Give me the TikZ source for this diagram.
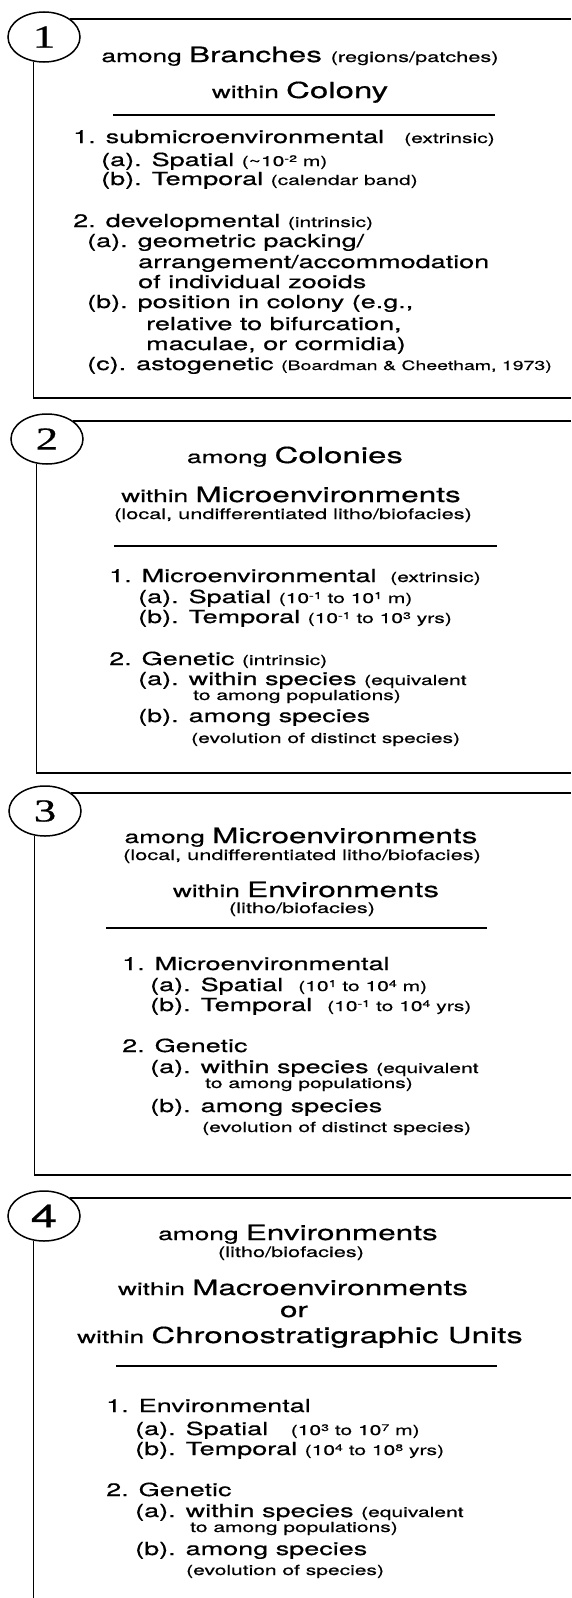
\documentclass[tikz,border=0pt]{standalone}
\usepackage{fontspec}
\setmainfont{TeX Gyre Heros}[FakeStretch=1.5, FakeBold=0.6]
\newfontfamily\numserif{Liberation Serif}[FakeStretch=1.4, FakeBold=0.6]
\usetikzlibrary{shapes.geometric}

\newcommand{\headsm}{\fontsize{17.5}{20}\selectfont}
\newcommand{\headbig}{\fontsize{21}{24}\selectfont}
\newcommand{\headpar}{\fontsize{14.5}{16}\selectfont}
\newcommand{\itemtxt}{\fontsize{18}{20}\selectfont}
\newcommand{\partxt}{\fontsize{14}{16}\selectfont}
\newcommand{\upx}[1]{\raisebox{0.55ex}{\fontsize{9.5}{10}\selectfont #1}}

\begin{document}
\begin{tikzpicture}[x=1pt, y=-1pt,
  num/.style={draw, ellipse, line width=1.5pt, minimum width=72, minimum height=50, inner sep=0pt, fill=white},
  frame/.style={line width=1.6pt},
  rule/.style={line width=1.4pt},
  head/.style={anchor=base, inner sep=0pt},
  entry/.style={anchor=base west, inner sep=0pt, font=\itemtxt}]

\useasboundingbox (0,0) rectangle (571,1598);

% panel 1: among branches
\node[num] (e1) at (44,37) {\numserif\fontsize{32}{32}\selectfont 1};
\coordinate (c1a) at (571,20);
\coordinate (c1b) at (571,398);
\draw[frame] (e1.35) -- (e1.35 -| c1a);
\draw[frame] (e1.247) |- (c1b);

\node[head] (p1t1) at (300,62) {\headsm among \headbig Branches \headpar(regions/patches)};
\node[head] (p1t2) at (300,98) {\headsm within \fontsize{22}{26}\selectfont Colony};
\draw[rule] (113,115) -- (495,115);

\node[entry] (p1a) at (73,143) {1. submicroenvironmental};
\node[entry, font=\partxt] (p1a2) at (404,143) {(extrinsic)};
\node[entry] (p1b) at (101,166) {(a). Spatial \partxt(\textasciitilde10\upx{-2} m)};
\node[entry] (p1c) at (101,185) {(b). Temporal \partxt(calendar band)};
\node[entry] (p1d) at (73,227) {2. developmental \partxt(intrinsic)};
\node[entry] (p1e) at (87,247) {(a). geometric packing/};
\node[entry] (p1f) at (138,268) {arrangement/accommodation};
\node[entry] (p1g) at (138,288) {of individual zooids};
\node[entry] (p1h) at (87,308) {(b). position in colony (e.g.,};
\node[entry] (p1i) at (146,330) {relative to bifurcation,};
\node[entry] (p1j) at (146,350) {maculae, or cormidia)};
\node[entry] (p1k) at (87,370) {(c). astogenetic \fontsize{13}{15}\selectfont(Boardman \& Cheetham, 1973)};

% panel 2: among colonies
\node[num] (e2) at (47,439) {\numserif\fontsize{32}{32}\selectfont 2};
\coordinate (c2a) at (571,425);
\coordinate (c2b) at (571,773);
\draw[frame] (e2.35) -- (e2.35 -| c2a);
\draw[frame] (e2.247) |- (c2b);

\node[head] (p2t1) at (295,463) {\headsm among \fontsize{22}{25}\selectfont Colonies};
\node[head] (p2t2) at (291,502) {\headsm within \headbig Microenvironments};
\node[head, font=\headpar] (p2t3) at (293,519) {(local, undifferentiated litho/biofacies)};
\draw[rule] (114,546) -- (497,546);

\node[entry] (p2a) at (109,582) {1. Microenvironmental};
\node[entry, font=\partxt] (p2a2) at (390,582) {(extrinsic)};
\node[entry] (p2b) at (138,603) {(a). Spatial \partxt(10\upx{-1} to 10\upx{1} m)};
\node[entry] (p2c) at (138,623) {(b). Temporal \partxt(10\upx{-1} to 10\upx{3} yrs)};
\node[entry] (p2d) at (109,665) {2. Genetic \partxt(intrinsic)};
\node[entry] (p2e) at (138,685) {(a). within species \partxt(equivalent};
\node[entry, font=\partxt] (p2f) at (193,700) {to among populations)};
\node[entry] (p2g) at (138,722) {(b). among species};
\node[entry, font=\partxt] (p2h) at (191,743) {(evolution of distinct species)};

% panel 3: among microenvironments
\node[num] (e3) at (45,811) {\numserif\fontsize{32}{32}\selectfont 3};
\coordinate (c3a) at (571,795);
\coordinate (c3b) at (571,1175);
\draw[frame] (e3.35) -- (e3.35 -| c3a);
\draw[frame] (e3.247) |- (c3b);

\node[head] (p3t1) at (301,843) {\headsm among \headbig Microenvironments};
\node[head, font=\headpar] (p3t2) at (302,860) {(local, undifferentiated litho/biofacies)};
\node[head] (p3t3) at (306,897) {\headsm within \headbig Environments};
\node[head, font=\headpar] (p3t4) at (302,913) {(litho/biofacies)};
\draw[rule] (106,928) -- (487,928);

\node[entry] (p3a) at (122,970) {1. Microenvironmental};
\node[entry] (p3b) at (150,991) {(a). Spatial\ \ \partxt(10\upx{1} to 10\upx{4} m)};
\node[entry] (p3c) at (150,1011) {(b). Temporal\ \ \partxt(10\upx{-1} to 10\upx{4} yrs)};
\node[entry] (p3d) at (122,1052) {2. Genetic};
\node[entry] (p3e) at (150,1073) {(a). within species \partxt(equivalent};
\node[entry, font=\partxt] (p3f) at (205,1088) {to among populations)};
\node[entry] (p3g) at (150,1112) {(b). among species};
\node[entry, font=\partxt] (p3h) at (202,1132) {(evolution of distinct species)};

% panel 4: among environments
\node[num] (e4) at (44,1216) {\fontsize{32}{32}\selectfont 4};
\coordinate (c4a) at (571,1201);
\coordinate (c4b) at (0,1598);
\draw[frame] (e4.35) -- (e4.35 -| c4a);
\draw[frame] (e4.247) -- (e4.247 |- c4b);

\node[head] (p4t1) at (298,1240) {\headsm among \headbig Environments};
\node[head, font=\headpar] (p4t2) at (291,1257) {(litho/biofacies)};
\node[head] (p4t3) at (293,1295) {\headsm within \headbig Macroenvironments};
\node[head] (p4t4) at (294,1317) {\headbig or};
\node[head] (p4t5) at (300,1343) {\headsm within \fontsize{22}{25}\selectfont Chronostratigraphic Units};
\draw[rule] (116,1366) -- (497,1366);

\node[entry] (p4a) at (106,1412) {1. Environmental};
\node[entry] (p4b) at (135,1435) {(a). Spatial\ \ \ \partxt(10\upx{3} to 10\upx{7} m)};
\node[entry] (p4c) at (135,1455) {(b). Temporal \partxt(10\upx{4} to 10\upx{8} yrs)};
\node[entry] (p4d) at (106,1496) {2. Genetic};
\node[entry] (p4e) at (135,1517) {(a). within species \partxt(equivalent};
\node[entry, font=\partxt] (p4f) at (190,1532) {to among populations)};
\node[entry] (p4g) at (135,1555) {(b). among species};
\node[entry, font=\partxt] (p4h) at (186,1575) {(evolution of species)};

\end{tikzpicture}
\end{document}
